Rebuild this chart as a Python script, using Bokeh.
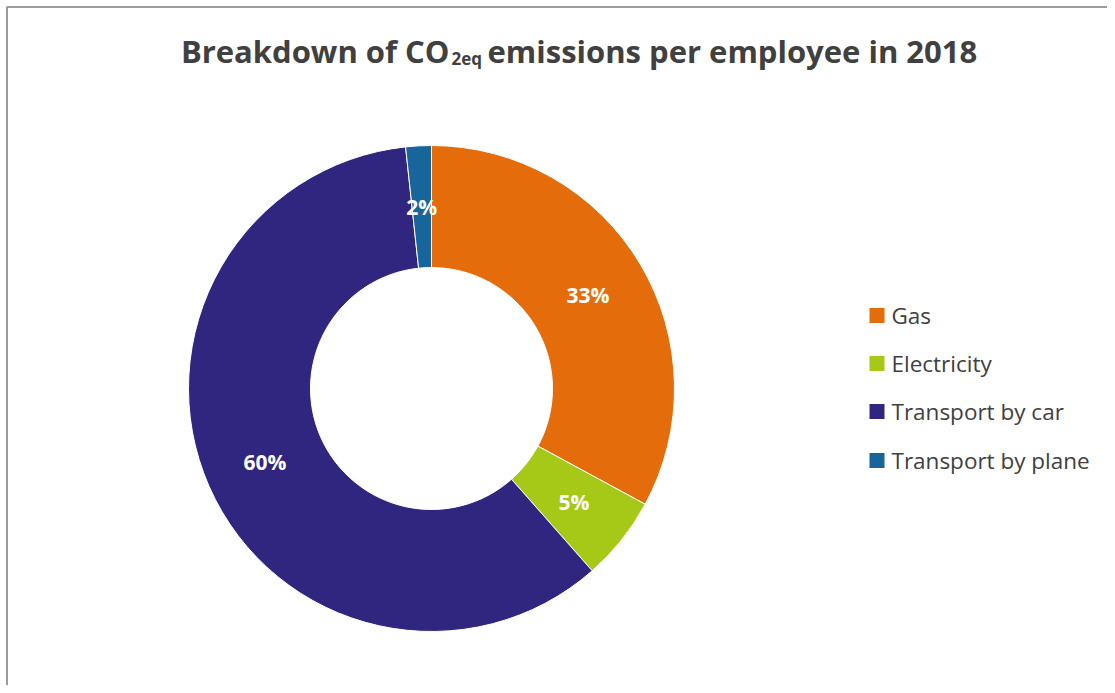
import numpy as np
from bokeh.plotting import figure
from bokeh.models import Range1d, ColumnDataSource
from bokeh.core.properties import value
from bokeh.embed import file_html
from bokeh.resources import INLINE

categories = ["Gas", "Electricity", "Transport by car", "Transport by plane"]
shares = [32.9, 5.6, 59.8, 1.7]
labels = ["33%", "5%", "60%", "2%"]
colors = ["#E46C0A", "#A6C817", "#31267F", "#17659A"]

FONT = "Open Sans"
W, H = 1107, 685
TOP = 693  # data y = TOP - screen y
p = figure(width=W, height=H, output_backend="svg", toolbar_location=None,
           x_range=Range1d(0, W), y_range=Range1d(TOP - H, TOP), min_border=0,
           border_fill_color="white", background_fill_color="white")
p.axis.visible = False
p.grid.visible = False
p.outline_line_color = None

# frame border (left / top visible like reference)
p.line(x=[6.5, 6.5, 1120], y=[0, TOP - 6.5, TOP - 6.5], line_color="#9C9C9C", line_width=2)

cx, cy = 431, TOP - 388
r_out, r_in = 243, 121
frac = np.array(shares) / sum(shares)
cum = np.concatenate([[0], np.cumsum(frac)])
start = np.pi / 2 - cum[:-1] * 2 * np.pi
end = np.pi / 2 - cum[1:] * 2 * np.pi
mid = (start + end) / 2

src = ColumnDataSource(dict(start=start, end=end, color=colors, cat=categories))
p.annular_wedge(x=cx, y=cy, inner_radius=r_in, outer_radius=r_out,
                start_angle="start", end_angle="end", direction="clock",
                fill_color="color", line_color="white", line_width=1, source=src)

r_lab = (r_in + r_out) / 2
lx = cx + r_lab * np.cos(mid)
ly = cy + r_lab * np.sin(mid)
p.text(x=lx, y=ly, text=labels, text_color="white", text_font=value(FONT),
       text_font_style="bold", text_font_size="21px", text_align="center",
       text_baseline="middle")

# title with subscript
ty = TOP - 50
p.text(x=[449], y=[ty], text=["Breakdown of CO"], text_font=value(FONT),
       text_font_style="bold", text_font_size="31px", text_color="#404040",
       text_align="right", text_baseline="alphabetic")
p.text(x=[451], y=[ty - 8], text=["2eq"], text_font=value(FONT),
       text_font_style="bold", text_font_size="17px", text_color="#404040",
       text_align="left", text_baseline="alphabetic")
p.text(x=[487], y=[ty], text=["emissions per employee in 2018"], text_font=value(FONT),
       text_font_style="bold", text_font_size="31px", text_color="#404040",
       text_align="left", text_baseline="alphabetic")

# legend
leg_y = TOP - np.array([315, 363, 411, 460])
p.scatter(x=[876.5] * 4, y=leg_y, marker="square", size=15, fill_color=colors, line_color=None)
p.text(x=[891] * 4, y=leg_y, text=categories, text_font=value(FONT),
       text_font_size="22.5px", text_color="#404040", text_align="left",
       text_baseline="middle")

open("out.html", "w").write(file_html(p, INLINE))
